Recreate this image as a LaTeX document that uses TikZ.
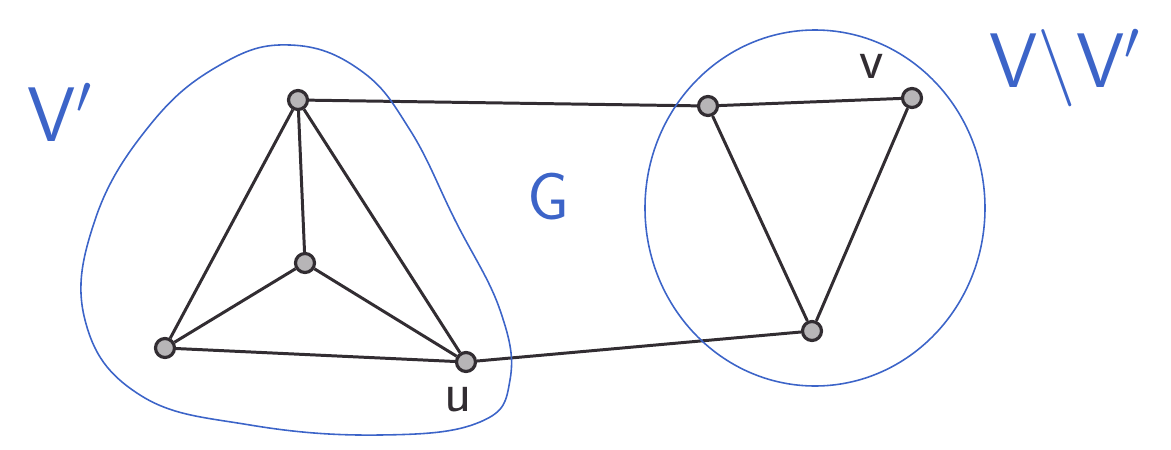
\RequirePackage{fix-cm}
\documentclass[tikz,border=0pt]{standalone}
\usepackage{tikz}
\usetikzlibrary{positioning, calc}
\definecolor{penblue}{RGB}{60, 100, 200}
\definecolor{inkgray}{RGB}{50, 45, 50}

\begin{document}
\begin{tikzpicture}[
    x=0.02cm, y=-0.02cm,
    vert/.style={circle, draw=inkgray, fill=inkgray!35, line width=1.8pt, minimum size=0.38cm, inner sep=0pt},
    edge/.style={draw=inkgray, line width=1.7pt},
    loop/.style={draw=penblue, line width=0.9pt},
    hand/.style={text=penblue, font=\fontsize{44}{48}\selectfont\sffamily}
]
\useasboundingbox (0,0) rectangle (1171,450);

\node[vert] (a) at (298,100) {};
\node[vert] (b) at (305,263) {};
\node[vert] (c) at (165,348) {};
\node[vert] (u) at (466,362) {};
\node[vert] (d) at (708,106) {};
\node[vert] (v) at (912,98) {};
\node[vert] (e) at (812,331) {};

\draw[edge] (a) -- (b);
\draw[edge] (a) -- (c);
\draw[edge] (a) -- (u);
\draw[edge] (b) -- (c);
\draw[edge] (b) -- (u);
\draw[edge] (c) -- (u);
\draw[edge] (a) -- (d);
\draw[edge] (d) -- (v);
\draw[edge] (d) -- (e);
\draw[edge] (v) -- (e);
\draw[edge] (u) -- (e);

% the two parts
\draw[loop] plot[smooth cycle, tension=0.7] coordinates {
    (290,45) (360,70) (410,130) (455,220) (500,310) (510,380)
    (480,422) (380,435) (250,425) (140,395) (85,320) (95,220)
    (150,125) (220,65)};
\draw[loop] (815,208) ellipse [x radius=170, y radius=178];

\node[hand] (vprime) at (60,112) {V$'$};
\node[hand] (rest) at (1065,68) {V$\backslash$V$'$};
\node[hand, font=\fontsize{38}{42}\selectfont\sffamily] (glabel) at (548,197) {G};
\node[font=\fontsize{32}{36}\selectfont\sffamily, text=inkgray] (vlabel) at (872,66) {v};
\node[font=\fontsize{32}{36}\selectfont\sffamily, text=inkgray] (ulabel) at (458,400) {u};

\end{tikzpicture}
\end{document}
